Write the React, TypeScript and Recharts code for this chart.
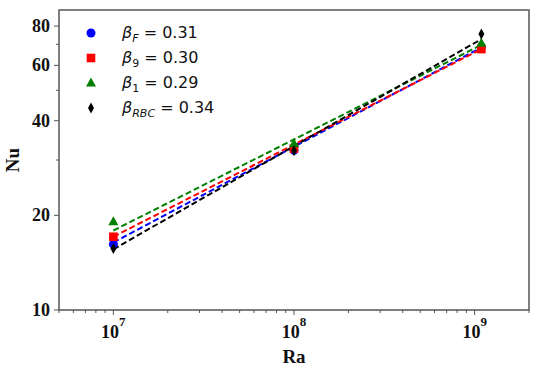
import React from 'react';
import {
  ComposedChart,
  Scatter,
  Line,
  XAxis,
  YAxis,
  ReferenceArea,
} from 'recharts';

// measured points (Ra, Nu)
const raValues = [1e7, 1e8, 1.09e9];
const nuF = [16.2, 32.2, 68.6];
const nu9 = [17.1, 32.6, 67.6];
const nu1 = [19.1, 33.8, 70.6];
const nuRBC = [15.7, 32.1, 75.5];

// power-law fit lines, end points
const fitRa = [1e7, 1.09e9];
const fitF = [16.4, 68.4];
const fit9 = [17.1, 67.6];
const fit1 = [17.9, 69.7];
const fitRBC = [15.6, 72.7];

const seriesNames = ['F', '9', '1', 'RBC'];
const betaValues = ['0.31', '0.30', '0.29', '0.34'];
const seriesColors = ['#0000ff', '#ff0000', '#008000', '#000000'];
const seriesMarkers = ['circle', 'square', 'triangle', 'diamond'];

const xDomain = [5e6, 2e9];
const yDomain = [10, 90];
const xMajorTicks = [1e7, 1e8, 1e9];
const xMinorTicks = [
  5e6, 6e6, 7e6, 8e6, 9e6,
  2e7, 3e7, 4e7, 5e7, 6e7, 7e7, 8e7, 9e7,
  2e8, 3e8, 4e8, 5e8, 6e8, 7e8, 8e8, 9e8,
  2e9,
];
const yMajorTicks = [10, 20, 40, 60, 80];
const yMinorTicks = [30, 50, 70];

const toRows = (xs: number[], ys: number[]) => xs.map((ra, i) => ({ ra, nu: ys[i] }));
const pointSets = [nuF, nu9, nu1, nuRBC].map(v => toRows(raValues, v));
const fitSets = [fitF, fit9, fit1, fitRBC].map(v => toRows(fitRa, v));

const serif = '"Liberation Serif", "Times New Roman", serif';
const axisColor = '#555';

const Marker = ({ kind, cx, cy, color }: { kind: string; cx: number; cy: number; color: string }) => {
  if (kind === 'circle') return <circle cx={cx} cy={cy} r={4.5} fill={color} />;
  if (kind === 'square') return <rect x={cx - 4.3} y={cy - 4.3} width={8.6} height={8.6} fill={color} />;
  if (kind === 'triangle')
    return <polygon points={`${cx},${cy - 5.5} ${cx - 5},${cy + 3.5} ${cx + 5},${cy + 3.5}`} fill={color} />;
  return <polygon points={`${cx},${cy - 5.5} ${cx + 3},${cy} ${cx},${cy + 5.5} ${cx - 3},${cy}`} fill={color} />;
};

const XTick = (props: any) => {
  const { x, y, payload } = props;
  const v = payload.value as number;
  const major = xMajorTicks.includes(v);
  const exp = Math.round(Math.log10(v));
  return (
    <g>
      <line x1={x} x2={x} y1={y} y2={y + (major ? 5 : 3)} stroke={axisColor} strokeWidth={1} />
      {major && (
        <text x={x} y={y + 28} textAnchor="middle" fontFamily={serif} fontWeight="bold" fontSize={18} fill="#111">
          <tspan>10</tspan>
          <tspan dy={-12} fontSize={13}>{exp}</tspan>
        </text>
      )}
    </g>
  );
};

const YTick = (props: any) => {
  const { x, y, payload } = props;
  const v = payload.value as number;
  const major = yMajorTicks.includes(v);
  return (
    <g>
      <line x1={x - (major ? 5 : 3)} x2={x} y1={y} y2={y} stroke={axisColor} strokeWidth={1} />
      {major && (
        <text x={x - 9} y={y + 6} textAnchor="end" fontFamily={serif} fontWeight="bold" fontSize={18} fill="#111">
          {v}
        </text>
      )}
    </g>
  );
};

const LegendBox = () => (
  <div
    style={{
      position: 'absolute',
      left: 84,
      top: 20,
      fontFamily: '"DejaVu Sans", sans-serif',
      fontSize: 16,
      color: '#111',
    }}
  >
    {seriesNames.map((name, i) => (
      <div key={name} style={{ height: 25, display: 'flex', alignItems: 'center' }}>
        <svg width={14} height={14} style={{ marginRight: 24 }}>
          <Marker kind={seriesMarkers[i]} cx={7} cy={7} color={seriesColors[i]} />
        </svg>
        <span>
          <i>β</i>
          <span style={{ fontSize: 11, position: 'relative', top: 4 }}>
            {name === '9' || name === '1' ? name : <i>{name}</i>}
          </span>
          {' = '}
          {betaValues[i]}
        </span>
      </div>
    ))}
  </div>
);

export default function App() {
  return (
    <div style={{ position: 'absolute', left: 0, top: 0, width: 540, height: 372, background: '#fff' }}>
      <ComposedChart width={540} height={372} margin={{ top: 10, right: 11, bottom: 0, left: 0 }}>
        <XAxis
          dataKey="ra"
          type="number"
          scale="log"
          domain={xDomain}
          allowDataOverflow
          ticks={[...xMinorTicks, ...xMajorTicks].sort((a, b) => a - b)}
          interval={0}
          tick={<XTick />}
          tickLine={false}
          tickSize={0}
          tickMargin={0}
          axisLine={false}
          height={62}
          label={{
            value: 'Ra',
            position: 'insideBottom',
            offset: 9,
            style: { fontFamily: serif, fontWeight: 'bold', fontSize: 19, fill: '#111' },
          }}
        />
        <YAxis
          dataKey="nu"
          type="number"
          scale="log"
          domain={yDomain}
          allowDataOverflow
          ticks={[...yMinorTicks, ...yMajorTicks].sort((a, b) => a - b)}
          interval={0}
          tick={<YTick />}
          tickLine={false}
          tickSize={0}
          tickMargin={0}
          axisLine={false}
          width={59}
          label={{
            value: 'Nu',
            angle: -90,
            position: 'insideLeft',
            offset: 12,
            style: { fontFamily: serif, fontWeight: 'bold', fontSize: 19, fill: '#111', textAnchor: 'middle' },
          }}
        />
        <ReferenceArea
          x1={xDomain[0]}
          x2={xDomain[1]}
          y1={yDomain[0]}
          y2={yDomain[1]}
          fill="none"
          stroke={axisColor}
          strokeWidth={1.5}
          ifOverflow="visible"
        />
        {pointSets.map((data, i) => (
          <Scatter
            key={`p${i}`}
            data={data}
            fill={seriesColors[i]}
            isAnimationActive={false}
            shape={(p: any) => <Marker kind={seriesMarkers[i]} cx={p.cx} cy={p.cy} color={seriesColors[i]} />}
          />
        ))}
        {fitSets.map((data, i) => (
          <Line
            key={`f${i}`}
            data={data}
            dataKey="nu"
            type="linear"
            stroke={seriesColors[i]}
            strokeWidth={2}
            strokeDasharray="6 3"
            dot={false}
            activeDot={false}
            isAnimationActive={false}
          />
        ))}
      </ComposedChart>
      <LegendBox />
    </div>
  );
}
